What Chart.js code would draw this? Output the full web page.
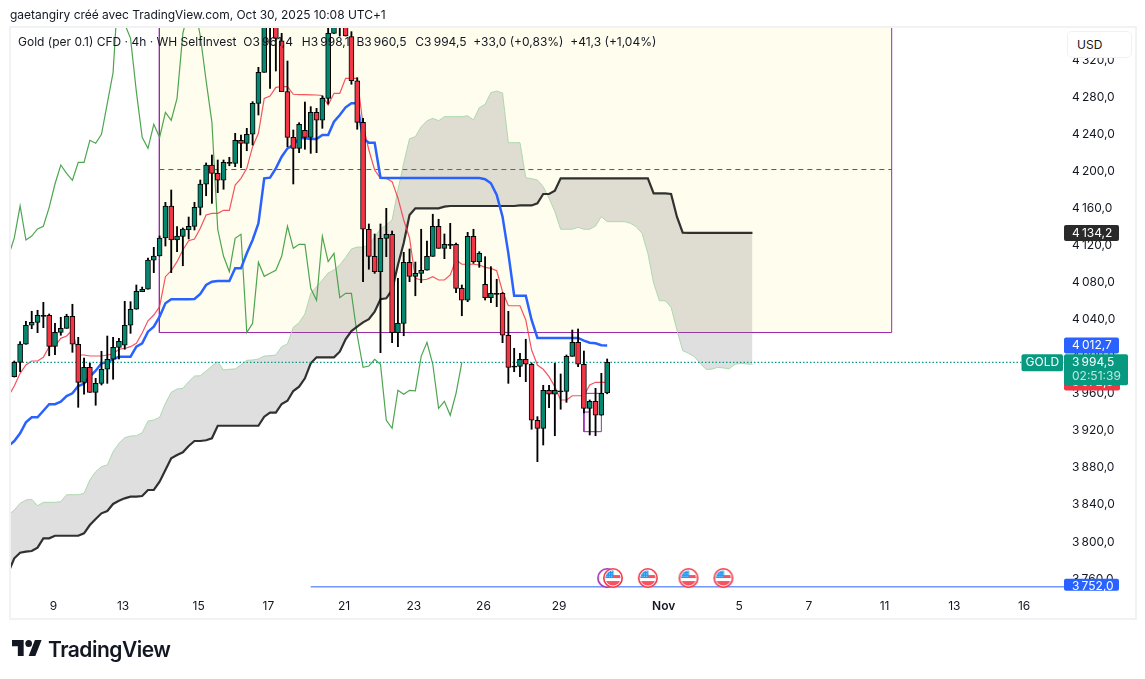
<!DOCTYPE html>
<html lang="fr">
<head>
<meta charset="utf-8">
<title>Gold 4h</title>
<script src="https://cdn.jsdelivr.net/npm/chart.js@4/dist/chart.umd.js"></script>
<style>
html,body{margin:0;padding:0;background:#fff;width:1145px;height:679px;overflow:hidden;font-family:Inter,"Noto Sans",sans-serif;color:#131722}
#frame{position:absolute;left:9px;top:26px;width:1124px;height:590px;border:2px solid #f1f2f4;box-sizing:content-box}
canvas{position:absolute;left:0;top:0}
.t{position:absolute;white-space:pre;font-size:12px;line-height:16px}
#usd{position:absolute;left:1067px;top:31px;width:63px;height:25px;border:1px solid #f0f1f3;border-radius:5px;background:#fff;font-size:12px;line-height:25px;text-indent:9px;box-sizing:content-box}
#logo{position:absolute;left:12px;top:640px;width:30px;height:16px}
#brand{position:absolute;left:48px;top:636px;font-size:21px;line-height:28px;font-weight:600;letter-spacing:-.5px;color:#131722}
</style>
</head>
<body>
<div id="frame"></div>
<canvas id="c" width="1145" height="679"></canvas>
<div class="t" style="left:10px;top:7px;letter-spacing:-.03px">gaetangiry créé avec TradingView.com, Oct 30, 2025 10:08 UTC+1</div>
<div class="t" style="left:18px;top:34px">Gold (per 0.1) CFD · 4h · WH SelfInvest  O3&#8239;961,4  <span style="margin-left:2px">H3&#8239;998,1</span>  B3&#8239;960,5  <span style="margin-left:2px">C3&#8239;994,5</span>  +33,0 (+0,83%)  +41,3 (+1,04%)</div>
<div id="usd">USD</div>
<svg id="logo" viewBox="0 4 36 18" preserveAspectRatio="none"><path fill="#131722" d="M14 22H7V11H0V4h14v18zM28 22h-8l7.5-18h8L28 22z"/><circle fill="#131722" cx="20" cy="8" r="4"/></svg>
<div id="brand">TradingView</div>
<script>
// ---- candles (index 0..102) ----
const opens=[3979.0,3994.5,4014.0,4034.5,4037.7,4044.1,4045.3,4011.8,4026.9,4031.2,4044.2,4014.0,3972.9,3989.1,3962.1,3971.8,3987.0,3997.8,4010.7,4012.9,4034.5,4051.8,4070.8,4073.4,4104.7,4109.3,4128.8,4163.3,4126.6,4130.6,4137.7,4141.4,4161.9,4186.8,4207.6,4198.6,4191.1,4209.3,4209.4,4234.3,4231.0,4240.8,4274.2,4307.7,4411.7,4359.9,4341.8,4286.8,4237.5,4225.6,4245.1,4237.5,4264.5,4255.9,4279.6,4349.8,4375.0,4380.4,4346.2,4298.6,4253.7,4138.2,4109.0,4092.4,4128.4,4132.8,4026.5,4036.6,4102.5,4087.4,4090.6,4093.9,4109.0,4141.4,4117.6,4120.7,4121.9,4074.4,4061.5,4130.6,4103.2,4078.8,4064.3,4067.8,4069.0,4023.7,3989.3,3990.2,3997.8,3992.4,3931.9,3923.2,3964.3,3960.0,3962.6,3963.2,4001.0,4016.1,3992.4,3944.8,3952.4,3937.3,3961.4];
const highs=[3995.9,4016.8,4038.8,4049.6,4050.7,4059.3,4046.7,4036.6,4043.1,4046.4,4057.2,4021.5,3999.2,3993.4,3977.2,4006.4,4022.9,4021.5,4020.4,4060.4,4060.0,4078.0,4075.8,4107.2,4118.7,4130.9,4167.3,4180.6,4141.0,4139.6,4151.4,4167.3,4191.4,4209.8,4218.4,4213.0,4213.0,4215.9,4241.8,4240.0,4247.2,4276.0,4313.1,4418.2,4423.6,4369.6,4349.8,4319.9,4245.4,4253.3,4275.6,4270.6,4268.8,4282.1,4364.2,4380.4,4385.8,4385.8,4351.6,4301.9,4258.0,4143.9,4133.1,4143.9,4160.8,4136.3,4085.2,4113.3,4116.9,4102.8,4138.2,4125.5,4154.4,4149.0,4133.1,4144.6,4123.4,4078.0,4134.9,4138.2,4114.0,4108.6,4097.8,4084.2,4069.9,4049.6,4009.6,4004.2,4019.4,3993.8,3935.8,3969.7,3969.7,3993.4,3981.9,4002.4,4029.4,4030.5,4006.7,3953.8,3966.4,3982.6,3998.1];
const lows=[3978.6,3984.4,4014.0,4030.8,4026.5,4031.9,4001.6,4002.7,4023.7,4031.2,4005.3,3945.9,3960.0,3962.1,3948.1,3970.0,3971.8,3976.2,3998.1,4008.6,4025.8,4051.8,4070.8,4073.4,4091.3,4109.3,4120.1,4091.3,4114.0,4098.8,4127.7,4137.4,4153.6,4174.4,4166.2,4177.7,4181.4,4206.8,4205.8,4204.7,4223.0,4229.2,4261.6,4307.7,4290.4,4309.1,4286.8,4227.4,4187.1,4220.9,4224.6,4220.2,4220.9,4247.2,4273.5,4349.8,4346.9,4346.9,4294.8,4246.2,4081.6,4095.0,4090.6,4004.9,4108.6,4015.7,4011.4,4023.2,4081.6,4066.4,4080.5,4093.9,4109.0,4117.6,4106.4,4117.2,4069.7,4044.8,4060.0,4101.4,4097.1,4061.8,4058.9,4054.6,4015.7,3971.8,3984.4,3979.0,3973.6,3922.2,3887.2,3905.2,3945.5,3915.2,3943.8,3951.3,4001.0,3989.8,3939.8,3916.0,3915.2,3937.3,3960.5];
const closes=[3994.5,4014.3,4034.5,4037.7,4045.3,4045.3,4011.8,4026.9,4031.2,4044.2,4014.0,3972.9,3989.1,3962.1,3971.8,3987.0,3997.8,4010.7,4017.2,4034.5,4051.8,4071.2,4073.4,4105.0,4109.3,4128.8,4163.3,4126.6,4130.9,4138.5,4141.4,4161.9,4187.1,4207.6,4198.6,4191.1,4210.5,4210.5,4234.3,4231.0,4240.8,4274.2,4307.7,4411.7,4359.9,4344.4,4286.8,4237.5,4225.6,4251.6,4237.5,4264.5,4255.9,4279.6,4349.8,4375.0,4380.4,4346.9,4298.6,4253.7,4138.2,4109.0,4092.4,4128.4,4132.8,4026.5,4036.6,4102.5,4087.4,4090.6,4093.9,4109.0,4141.4,4117.6,4121.9,4121.9,4074.4,4061.5,4130.6,4103.2,4112.2,4064.3,4069.0,4069.0,4023.7,3989.1,3990.5,3997.8,3992.4,3931.9,3923.2,3964.3,3960.0,3964.3,3963.8,4001.0,4016.1,3992.4,3944.8,3952.4,3937.3,3961.0,3994.5];

// ---- Ichimoku lines; first value belongs to index -1 ----
const kijun=[3904.1,3909.5,3917.8,3929.7,3935.1,3935.1,3942.2,3949.2,3949.2,3952.0,3958.1,3961.0,3968.9,3971.4,3979.0,3985.4,3993.4,3994.5,3997.8,4000.6,4000.6,4000.6,4011.4,4015.0,4027.6,4033.0,4043.8,4058.2,4062.6,4062.6,4062.6,4062.6,4062.9,4068.3,4078.0,4081.6,4082.3,4082.3,4082.3,4096.0,4096.0,4112.2,4126.6,4144.6,4193.2,4193.9,4204.0,4216.6,4225.6,4229.2,4236.4,4236.4,4235.7,4235.7,4240.0,4240.0,4254.4,4261.6,4269.9,4274.2,4274.2,4236.4,4231.7,4231.7,4193.9,4193.6,4193.6,4193.6,4193.6,4193.6,4193.6,4193.6,4193.6,4193.6,4193.6,4193.6,4193.6,4193.6,4193.6,4193.6,4193.6,4193.6,4192.2,4187.9,4175.2,4151.8,4112.2,4066.5,4066.5,4066.5,4040.2,4020.8,4020.8,4020.8,4020.8,4020.8,4020.8,4020.8,4020.8,4017.9,4015.7,4015.0,4012.9,4012.7];
const tenkan=[3958.1,3968.9,3982.6,3991.6,3995.9,3995.9,3999.9,4011.4,4012.1,4020.4,4022.9,4029.4,4002.4,4002.4,4001.3,4001.3,4001.3,4002.4,4003.5,4008.6,4009.6,4011.4,4015.0,4026.2,4039.4,4045.6,4054.6,4087.0,4093.4,4103.2,4115.8,4125.8,4127.7,4139.2,4153.6,4155.4,4155.4,4158.7,4158.7,4186.0,4193.2,4204.0,4227.4,4241.8,4279.6,4282.1,4291.5,4292.2,4292.2,4284.0,4283.7,4283.7,4283.4,4283.2,4282.7,4272.4,4285.0,4285.0,4301.2,4301.2,4301.2,4250.8,4223.8,4202.2,4193.2,4193.2,4189.6,4172.0,4148.2,4128.8,4085.2,4083.4,4084.2,4087.0,4083.4,4083.4,4088.8,4105.0,4100.4,4100.4,4100.4,4099.6,4097.1,4096.0,4093.4,4070.8,4055.6,4055.6,4055.6,4040.2,4007.8,3991.6,3987.0,3979.0,3968.2,3953.8,3953.8,3958.4,3958.4,3958.4,3970.0,3972.9,3972.9,3972.9];
const chikou=[4109.3,4128.8,4163.3,4126.6,4130.9,4138.5,4141.4,4161.9,4187.1,4207.6,4198.6,4191.1,4210.5,4210.5,4234.3,4231.0,4240.8,4274.2,4307.7,4411.7,4359.9,4344.4,4286.8,4237.5,4225.6,4251.6,4237.5,4264.5,4255.9,4279.6,4349.8,4375.0,4380.4,4346.9,4298.6,4253.7,4138.2,4109.0,4092.4,4128.4,4132.8,4026.5,4036.6,4102.5,4087.4,4090.6,4093.9,4109.0,4141.4,4117.6,4121.9,4121.9,4074.4,4061.5,4130.6,4103.2,4112.2,4064.3,4069.0,4069.0,4023.7,3989.1,3990.5,3997.8,3992.4,3931.9,3923.2,3964.3,3960.0,3964.3,3963.8,4001.0,4016.1,3992.4,3944.8,3952.4,3937.3,3961.0,3994.5];
const spanA=[3829.6,3835.0,3842.2,3845.8,3846.6,3839.6,3843.3,3843.3,3843.3,3844.0,3851.5,3851.5,3851.5,3853.0,3867.4,3876.4,3881.8,3883.6,3898.0,3907.0,3913.1,3914.9,3915.2,3918.5,3931.1,3932.2,3935.1,3950.2,3962.1,3965.7,3966.4,3973.6,3979.7,3980.0,3985.1,3990.5,3995.2,3986.2,3987.0,3987.3,3991.6,3996.7,3997.0,3998.1,4001.3,4001.6,4002.4,4011.4,4014.3,4032.3,4037.3,4046.7,4069.0,4076.2,4083.4,4091.0,4094.2,4099.6,4107.7,4116.9,4119.0,4119.0,4121.2,4129.8,4138.5,4142.8,4148.2,4180.6,4209.8,4236.0,4238.2,4249.0,4255.4,4258.0,4255.4,4259.8,4259.8,4259.8,4259.8,4260.8,4256.2,4269.5,4273.2,4285.7,4287.5,4285.4,4231.7,4231.7,4231.7,4193.9,4192.8,4191.4,4184.2,4171.6,4157.2,4138.2,4138.2,4138.2,4140.3,4138.2,4138.2,4141.7,4151.8,4146.4,4146.4,4146.4,4146.4,4144.6,4141.0,4133.8,4112.2,4079.8,4061.0,4061.0,4053.9,4029.4,4007.0,4004.2,4000.6,3993.4,3987.0,3987.0,3989.1,3988.4,3987.6,3992.4,3993.4,3992.7,3992.4];
const spanB=[3768.0,3782.8,3788.9,3790.0,3790.7,3794.3,3804.4,3804.4,3807.2,3807.2,3807.2,3807.2,3807.2,3809.8,3818.8,3825.3,3831.4,3833.9,3841.5,3845.0,3847.6,3849.4,3849.4,3850.1,3856.6,3856.6,3865.6,3878.2,3890.8,3894.4,3897.3,3904.1,3909.5,3909.5,3910.3,3912.4,3926.0,3926.0,3926.0,3926.0,3926.0,3926.0,3926.0,3926.0,3935.8,3940.1,3940.1,3949.5,3953.0,3963.5,3968.2,3977.2,3993.4,3999.9,3999.9,3999.9,3999.9,4006.0,4019.4,4028.3,4033.0,4037.7,4041.0,4049.2,4062.6,4063.6,4072.6,4099.6,4123.4,4153.6,4160.8,4160.8,4160.8,4160.8,4160.8,4162.6,4163.3,4163.3,4163.3,4163.3,4163.3,4163.3,4163.3,4163.3,4163.3,4163.3,4163.3,4163.3,4163.9,4163.9,4163.9,4166.2,4176.3,4176.3,4179.8,4193.2,4193.2,4193.2,4193.2,4193.2,4193.2,4193.2,4193.2,4193.2,4193.2,4193.2,4193.2,4193.2,4193.2,4193.2,4193.2,4177.0,4177.0,4177.0,4176.3,4151.8,4134.5,4134.2,4134.2,4134.2,4134.2,4134.2,4134.2,4134.2,4134.2,4134.2,4134.2,4134.2,4134.2];

// ---- drawings, in index / price units ----
const zoneStart=24.96, zoneEnd=150.95, zoneHigh=4378.3, zoneMid=4202.7, zoneLow=4026.7;
const boxStart=98, boxMidEnd=99, boxEnd=101, boxHigh=3961.0, boxMid=3940.8, boxLow=3919.6;
const lowLevel=3752.0, lowLevelStart=51;
const lastPrice=3994.5;
const flagIndex=[103,109,116,122];
const earningsIndex=[102];
const eventPrice=3761.5;

// ---- axis ----
const xTickIndex=[7,19,32,44,57,69,81,94,112,125,137,150,162,174];
const xTickLabels=['9','13','15','17','21','23','26','29','Nov','5','7','11','13','16'];
const yTicks=[3760,3800,3840,3880,3920,3960,4000,4040,4080,4120,4160,4200,4240,4280,4320];
const priceTags=[3972.8,4134.2,4012.7,3752.0];

const NB='\u202f';
const fmtPrice=v=>{const s=v.toFixed(1).replace('.',',');return s[0]+NB+s.slice(1);};
const pts=(start,vals)=>vals.map((y,k)=>({x:start+k,y}));

const GREEN='#06876F', RED='#F23645', PURPLE='#9C27B0', BLUE='#2962FF';
const bodyColor=closes.map((c,i)=>Math.abs(c-opens[i])<2?'#000':(c>=opens[i]?GREEN:RED));

function flagIcon(){
  const c=document.createElement('canvas');c.width=c.height=22;const g=c.getContext('2d');
  g.beginPath();g.arc(11,11,9.3,0,Math.PI*2);g.fillStyle='#fff';g.fill();
  g.save();g.beginPath();g.arc(11,11,7.6,0,Math.PI*2);g.clip();
  g.fillStyle='#F7525F';g.fillRect(2,8,18,3);g.fillRect(2,14,18,6);
  g.fillStyle='#2196F3';g.fillRect(3,2,8.5,8.5);
  g.fillStyle='#BBDEFB';for(let a=4.5;a<11;a+=2.4)for(let b=4;b<10;b+=2.4)g.fillRect(a,b,1,1);
  g.restore();
  g.beginPath();g.arc(11,11,9.2,0,Math.PI*2);g.lineWidth=1.6;g.strokeStyle='#F23645';g.stroke();
  return c;
}
function ringIcon(){
  const c=document.createElement('canvas');c.width=c.height=22;const g=c.getContext('2d');
  g.beginPath();g.arc(11,11,9.2,0,Math.PI*2);g.fillStyle='#fff';g.fill();g.lineWidth=1.6;g.strokeStyle=PURPLE;g.stroke();
  return c;
}

const priceTagPlugin={
  id:'priceTags',
  afterDatasetsDraw(chart){
    const g=chart.ctx,y=chart.scales.y;
    g.save();g.textBaseline='middle';g.textAlign='left';
    const font='12px Inter,"Noto Sans",sans-serif';
    const tag=(x,top,w,h,bg)=>{g.fillStyle=bg;g.beginPath();g.roundRect(x,top,w,h,2);g.fill();};
    const colors=[RED,'#2A2A2A',BLUE,BLUE];
    priceTags.forEach((p,i)=>{
      const py=y.getPixelForValue(p);
      const h=p===lowLevel?12:16;
      tag(1064,py-8,i===0?56:55,h,colors[i]);
      g.font=font;g.fillStyle='#fff';g.fillText(fmtPrice(p),1072,py);
    });
    const py=y.getPixelForValue(lastPrice);
    tag(1021.5,py-8,41.5,17,'#089981');
    g.font=font;g.fillStyle='#fff';g.fillText('GOLD',1025.5,py+0.5);
    tag(1064,py-8,64,31,'#089981');
    g.fillStyle='#fff';g.fillText(fmtPrice(lastPrice),1072,py);
    g.fillStyle='rgba(255,255,255,.75)';g.fillText('02:51:39',1072,py+14);
    g.restore();
  }
};

const lineDefaults={type:'line',pointRadius:0,tension:0,fill:false};
const datasets=[
  {...lineDefaults,label:'Zone',data:[{x:zoneStart,y:zoneHigh},{x:zoneStart,y:zoneLow},{x:zoneEnd,y:zoneLow},{x:zoneEnd,y:zoneHigh}],borderColor:PURPLE,borderWidth:1,backgroundColor:'rgba(255,235,59,.09)',fill:{target:{value:zoneHigh}},order:20},
  {...lineDefaults,label:'Zone mid',data:[{x:zoneStart,y:zoneMid},{x:zoneEnd,y:zoneMid}],borderColor:PURPLE,borderWidth:1,borderDash:[5,4],order:19},
  {...lineDefaults,label:'Senkou A',data:pts(-1,spanA),borderColor:'rgba(165,214,167,.9)',borderWidth:1,backgroundColor:'rgba(120,120,125,.24)',fill:{target:3},order:18},
  {...lineDefaults,label:'Senkou B',data:pts(-1,spanB),borderColor:'rgba(28,28,28,.9)',borderWidth:2.2,order:12},
  {...lineDefaults,label:'Chikou',data:pts(-1,chikou),borderColor:'rgba(67,160,71,.95)',borderWidth:1.2,order:15},
  {...lineDefaults,label:'Box',data:[{x:boxStart,y:boxHigh},{x:boxStart,y:boxLow},{x:boxEnd,y:boxLow},{x:boxEnd,y:boxHigh},{x:boxStart,y:boxHigh}],borderColor:PURPLE,borderWidth:1,order:14},
  {...lineDefaults,label:'Box mid',data:[{x:boxStart,y:boxMid},{x:boxMidEnd,y:boxMid}],borderColor:PURPLE,borderWidth:1,order:13},
  {...lineDefaults,label:'Tenkan',data:pts(-1,tenkan),borderColor:'rgba(242,54,69,.85)',borderWidth:1.2,order:11},
  {...lineDefaults,label:'Kijun',data:pts(-1,kijun),borderColor:BLUE,borderWidth:2.5,order:10},
  {...lineDefaults,label:'Last',data:[{x:-1,y:lastPrice},{x:181,y:lastPrice}],borderColor:'#089981',borderWidth:1.3,borderDash:[1.5,2],order:9},
  {...lineDefaults,label:'Low level',data:[{x:lowLevelStart,y:lowLevel},{x:181,y:lowLevel}],borderColor:BLUE,borderWidth:1,order:8},
  {type:'bar',label:'Wicks',data:lows.map((l,i)=>({x:i,y:[l,highs[i]]})),backgroundColor:'#000',barThickness:1.2,grouped:false,order:7},
  {type:'bar',label:'Bodies',data:opens.map((o,i)=>({x:i,y:[o,closes[i]]})),backgroundColor:bodyColor,borderColor:'#000',borderWidth:1,borderSkipped:false,barThickness:5,grouped:false,order:6},
  {...lineDefaults,type:'scatter',label:'Earnings',showLine:false,data:earningsIndex.map(x=>({x,y:eventPrice})),pointStyle:ringIcon(),pointRadius:10,order:5},
  {...lineDefaults,type:'scatter',label:'Flags',showLine:false,data:flagIndex.map(x=>({x,y:eventPrice})),pointStyle:flagIcon(),pointRadius:10,order:4}
];

new Chart(document.getElementById('c'),{
  type:'bar',
  data:{datasets},
  plugins:[priceTagPlugin],
  options:{
    responsive:false,animation:false,devicePixelRatio:1,
    layout:{padding:{left:10,top:28,right:10,bottom:61}},
    plugins:{legend:{display:false},tooltip:{enabled:false},title:{display:false}},
    events:[],
    scales:{
      x:{type:'linear',position:'bottom',offset:false,min:-0.567,max:180.77,
        grid:{display:false,drawTicks:false},border:{display:false},
        afterFit(s){s.height=23;},
        afterBuildTicks(s){s.ticks=xTickIndex.map(value=>({value}));},
        ticks:{autoSkip:false,maxRotation:0,padding:4,labelOffset:-1.6,color:'#131722',
          font:c=>({family:'Inter,"Noto Sans",sans-serif',size:12,weight:c.tick&&c.tick.label==='Nov'?'600':'400'}),
          callback:v=>xTickLabels[xTickIndex.indexOf(v)]}
      },
      y:{type:'linear',position:'right',min:3743.2,max:4355.56,
        grid:{display:false,drawTicks:false},border:{display:false},
        afterFit(s){s.width=70;},
        afterBuildTicks(s){s.ticks=yTicks.map(value=>({value}));},
        ticks:{autoSkip:false,padding:7,labelOffset:-0.5,color:'#131722',align:'center',crossAlign:'near',
          font:{family:'Inter,"Noto Sans",sans-serif',size:12},
          callback:v=>fmtPrice(v)}
      }
    }
  }
});
</script>
</body>
</html>
